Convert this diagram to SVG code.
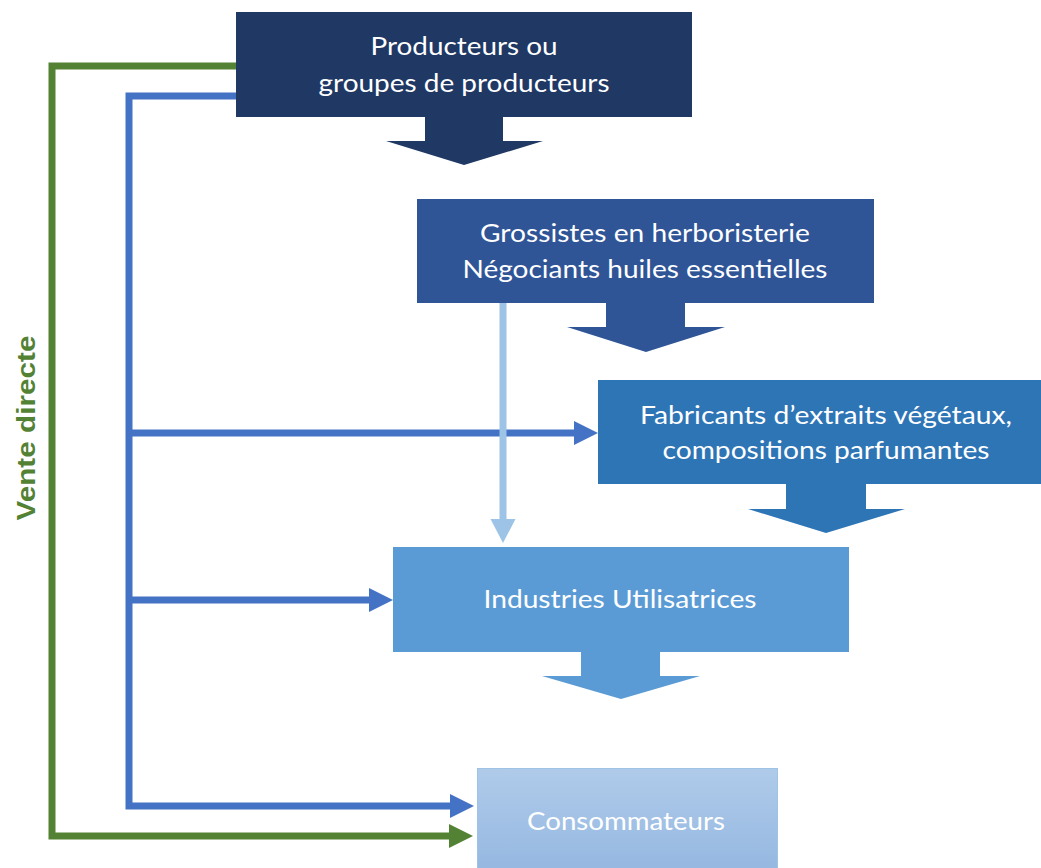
<svg xmlns="http://www.w3.org/2000/svg" width="1041" height="868" viewBox="0 0 1041 868">
<style>
.t{font-family:Lato,"Open Sans","Liberation Sans",sans-serif;font-size:25px;fill:#ffffff;text-anchor:middle}
.blue{fill:none;stroke:#4472C4;stroke-width:7}
.green{fill:none;stroke:#548235;stroke-width:7}
.lb{fill:none;stroke:#9DC3E6;stroke-width:7}
.lbl{font-family:"Liberation Sans",Arial,sans-serif;font-weight:700;font-size:26px;fill:#548235;text-anchor:middle}
</style>
<defs>
<marker id="mb" markerUnits="userSpaceOnUse" markerWidth="25" markerHeight="25" refX="0" refY="12" orient="auto"><path d="M0,0 L24,12 L0,24 z" fill="#4472C4"/></marker>
<marker id="mg" markerUnits="userSpaceOnUse" markerWidth="25" markerHeight="25" refX="0" refY="12" orient="auto"><path d="M0,0 L24,12 L0,24 z" fill="#548235"/></marker>
<marker id="ml" markerUnits="userSpaceOnUse" markerWidth="26" markerHeight="26" refX="0" refY="12.5" orient="auto"><path d="M0,0 L24,12.5 L0,25 z" fill="#9DC3E6"/></marker>
<linearGradient id="g5" x1="0" y1="0" x2="0" y2="1"><stop offset="0" stop-color="#B0CBEA"/><stop offset="1" stop-color="#93B6E0"/></linearGradient>
</defs>
<g id="connectors">
<path class="green" d="M236,66 H52 V836 H449" marker-end="url(#mg)"/>
<path class="blue" d="M236,96 H129 V806 H450" marker-end="url(#mb)"/>
<path class="blue" d="M129,433 H574" marker-end="url(#mb)"/>
<path class="blue" d="M129,600 H369" marker-end="url(#mb)"/>
<path class="lb" d="M503,303 V519" marker-end="url(#ml)"/>
<polygon fill="#203864" points="425,116 503,116 503,141 543,141 464,165 386,141 425,141"/>
<polygon fill="#2F5597" points="606,302 685,302 685,327 725,327 646,352 567,327 606,327"/>
<polygon fill="#2E75B6" points="786,483 866,483 866,509 905,509 826,533 748,509 786,509"/>
<polygon fill="#5B9BD5" points="581,651 660,651 660,676 700,676 621,699 542,676 581,676"/>
</g>
<g id="producteurs">
<rect x="236" y="12" width="456" height="105" fill="#203864"/>
<text class="t" x="464" y="55" textLength="187" lengthAdjust="spacingAndGlyphs">Producteurs ou</text>
<text class="t" x="464" y="92" textLength="291" lengthAdjust="spacingAndGlyphs">groupes de producteurs</text>
</g>
<g id="grossistes">
<rect x="417" y="199" width="457" height="104" fill="#2F5597"/>
<text class="t" x="645" y="242" textLength="330" lengthAdjust="spacingAndGlyphs">Grossistes en herboristerie</text>
<text class="t" x="645" y="278" textLength="365" lengthAdjust="spacingAndGlyphs">Négociants huiles essentielles</text>
</g>
<g id="fabricants">
<rect x="598" y="380" width="443" height="104" fill="#2E75B6"/>
<text class="t" x="826" y="424" textLength="372" lengthAdjust="spacingAndGlyphs">Fabricants d’extraits végétaux,</text>
<text class="t" x="826" y="459" textLength="327" lengthAdjust="spacingAndGlyphs">compositions parfumantes</text>
</g>
<g id="industries">
<rect x="393" y="547" width="456" height="105" fill="#5B9BD5"/>
<text class="t" x="620" y="608" textLength="273" lengthAdjust="spacingAndGlyphs">Industries Utilisatrices</text>
</g>
<g id="consommateurs">
<rect x="477.5" y="768.5" width="300" height="110" fill="url(#g5)" stroke="#9DC3E6" stroke-width="1"/>
<text class="t" x="626" y="830" textLength="198" lengthAdjust="spacingAndGlyphs">Consommateurs</text>
</g>
<g id="label">
<text class="lbl" transform="translate(35,428) rotate(-90)" textLength="185" lengthAdjust="spacingAndGlyphs">Vente directe</text>
</g>
</svg>
